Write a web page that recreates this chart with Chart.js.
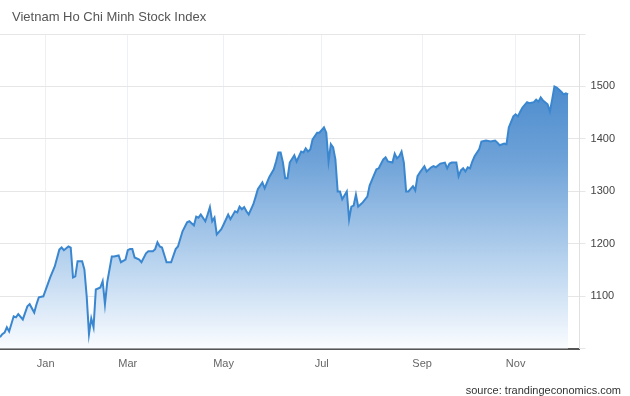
<!DOCTYPE html>
<html>
<head>
<meta charset="utf-8">
<script src="https://cdn.jsdelivr.net/npm/chart.js@4.4.0/dist/chart.umd.min.js"></script>
<style>
body{margin:0;width:630px;height:396px;overflow:hidden;background:#fff;font-family:"Liberation Sans",Arial,sans-serif}
#wrap{position:absolute;left:0;top:0;width:630px;height:396px}
.title{position:absolute;left:12px;top:9px;font-size:13px;color:#555}
.source{position:absolute;right:9px;top:384px;font-size:11px;color:#333}
</style>
</head>
<body>
<div id="wrap"><canvas id="chart" width="630" height="396"></canvas></div>
<div class="title">Vietnam Ho Chi Minh Stock Index</div>
<div class="source">source: trandingeconomics.com</div>
<script>
// trading day index since early Dec 2020
const days = [0,1,2,3,4,6,7,8,10,12,13,15,16,17,19,22,24,26,27,28,30,31,32,33,34,36,37,38,39,40,
  41,42,44,45,46,47,49,50,52,53,55,56,57,58,59,61,62,64,65,67,68,69,70,71,73,75,77,78,80,82,
  83,85,86,87,88,90,91,92,93,94,95,97,98,100,101,103,104,105,106,107,108,109,111,112,113,115,116,118,120,121,
  122,123,124,125,126,127,129,130,132,133,134,135,136,137,139,140,142,143,144,145,146,147,148,149,150,152,153,154,155,156,
  157,158,159,161,162,164,165,166,168,169,170,172,173,174,175,176,177,178,179,181,182,183,184,186,187,189,190,191,193,195,
  196,197,198,200,201,202,203,204,205,206,207,208,210,211,213,215,217,218,219,221,222,223,225,226,227,228,229,231,232,234,
  235,236,237,238,240,241,242,243,244,246,247,248,249]
const values = [1022,1028,1031,1041,1033,1062,1060,1066,1056,1081,1085,1069,1085,1098,1100,1136,1157,1189,1193,1188,1195,1193,1136,1138,1167,1167,1151,1100,1028,1058,
  1041,1113,1117,1129,1085,1127,1176,1176,1178,1165,1170,1188,1190,1190,1174,1170,1165,1182,1186,1186,1190,1203,1195,1193,1165,1165,1190,1195,1224,1241,
  1243,1235,1252,1250,1256,1243,1256,1270,1243,1250,1218,1228,1237,1256,1247,1262,1260,1271,1266,1270,1262,1256,1275,1289,1304,1317,1306,1327,1342,1357,
  1374,1374,1355,1325,1325,1355,1369,1357,1376,1374,1382,1376,1380,1399,1412,1412,1422,1412,1357,1390,1384,1361,1300,1300,1285,1300,1247,1271,1273,1294,
  1271,1275,1279,1290,1311,1332,1342,1344,1361,1365,1357,1355,1372,1363,1367,1376,1355,1300,1300,1310,1302,1329,1336,1348,1338,1346,1348,1346,1353,1355,
  1344,1353,1355,1355,1329,1340,1344,1338,1346,1344,1357,1367,1380,1395,1397,1395,1397,1393,1388,1391,1390,1422,1443,1447,1443,1452,1460,1470,1468,1470,
  1475,1471,1479,1473,1466,1452,1475,1500,1498,1490,1485,1487,1485]
const monthDays = [20, 56, 98, 141, 185, 226]
const monthNames = ['Jan', 'Mar', 'May', 'Jul', 'Sep', 'Nov']
const lastDay = 254

const points = days.map((d, i) => ({x: d, y: values[i]}))

function fillGradient(ctx) {
    const area = ctx.chart.chartArea
    if (!area) return 'rgba(60,132,204,0.5)'
    const g = ctx.chart.ctx.createLinearGradient(0, area.top, 0, area.bottom)
    g.addColorStop(0, 'rgb(52,124,198)')
    g.addColorStop(0.4, 'rgb(110,162,216)')
    g.addColorStop(0.75, 'rgb(190,215,240)')
    g.addColorStop(1, 'rgb(250,252,255)')
    return g
}

new Chart(document.getElementById('chart'), {
    type: 'line',
    data: {
        datasets: [{
            data: points,
            borderColor: '#3a87d0',
            borderWidth: 2,
            pointRadius: 0,
            tension: 0,
            fill: 'start',
            backgroundColor: fillGradient
        }]
    },
    options: {
        responsive: false,
        animation: false,
        layout: {padding: {top: 34, left: 0, right: 10, bottom: 16}},
        plugins: {legend: {display: false}, tooltip: {enabled: false}},
        scales: {
            x: {
                type: 'linear',
                min: 0,
                max: lastDay,
                afterBuildTicks: scale => { scale.ticks = monthDays.map(v => ({value: v})) },
                ticks: {
                    autoSkip: false,
                    maxRotation: 0,
                    padding: 9,
                    color: '#666',
                    font: {family: 'Liberation Sans', size: 11},
                    callback: (v, i) => monthNames[i]
                },
                grid: {color: '#edf1f6', drawTicks: false},
                border: {color: '#555', width: 2}
            },
            y: {
                position: 'right',
                min: 1000,
                max: 1600,
                ticks: {
                    stepSize: 100,
                    padding: 5,
                    color: '#444',
                    font: {family: 'Liberation Sans', size: 11},
                    callback: v => (v == 1000 || v == 1600) ? '' : v
                },
                grid: {color: '#e6e6e6', tickLength: 6},
                border: {color: '#e0e0e0'}
            }
        }
    }
})
</script>
</body>
</html>
